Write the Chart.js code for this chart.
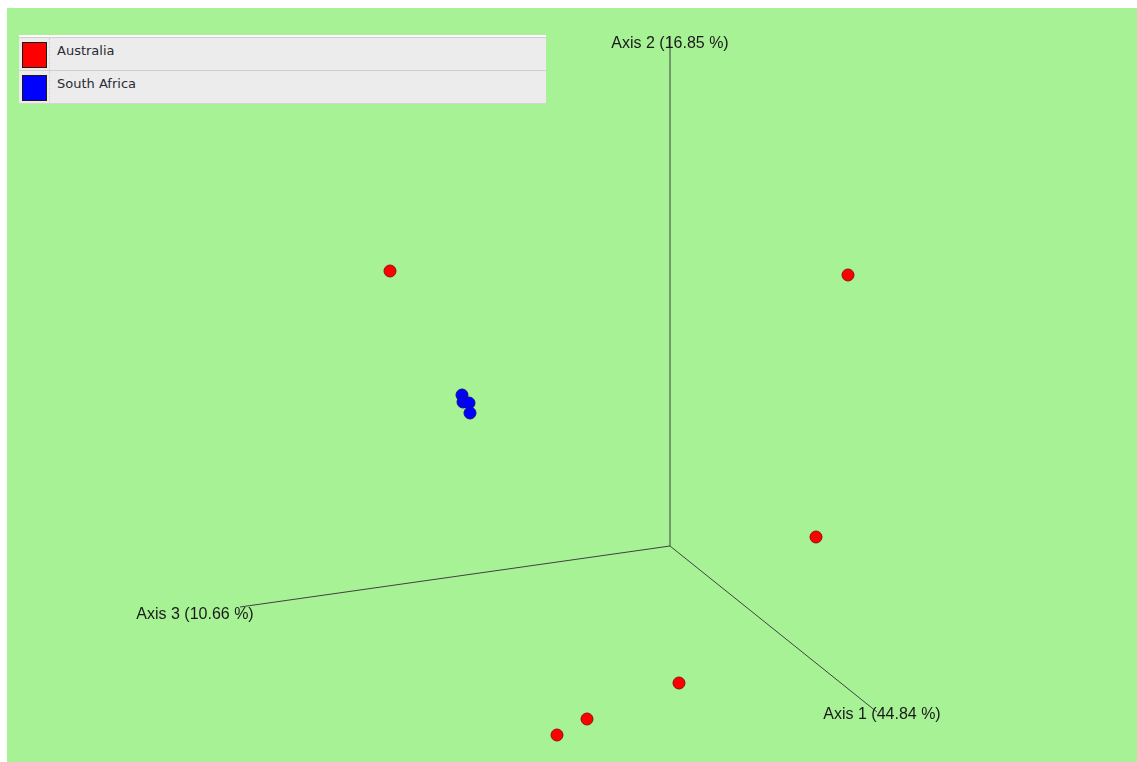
<!DOCTYPE html>
<html>
<head>
<meta charset="utf-8">
<script src="https://cdn.jsdelivr.net/npm/chart.js@4.4.1/dist/chart.umd.min.js"></script>
<style>
  html, body { margin: 0; padding: 0; background: #ffffff; }
  #plot {
    position: absolute; left: 7px; top: 8px;
    width: 1130px; height: 754px;
    background: #a7f295;
  }
  #legend {
    position: absolute; left: 12px; top: 27px;
    width: 527px;
    border-top: 2px solid #ffffff;
    border-bottom: 1px solid #d4d4d4;
    font-family: 'DejaVu Sans', Verdana, sans-serif;
    font-size: 13px; color: #2a2a33;
  }
  #legend .row {
    display: flex; height: 32px;
    background: #ececec;
    border-top: 1px solid #cfcfcf;
  }
  #legend .sw {
    width: 31px; border-right: 1px dotted #d0d0d0;
    display: flex; justify-content: center; padding-top: 4px; box-sizing: border-box;
  }
  #legend .sw span {
    display: block; width: 25px; height: 26px; box-sizing: border-box;
    border: 1px solid #1a1a1a;
  }
  #legend .lab { padding: 5px 0 0 7px; }
</style>
</head>
<body>
<div id="plot">
  <canvas id="pcoa"></canvas>
  <div id="legend"></div>
</div>
<script>
// projected PCoA coordinates (screen plane of the 3D view)
const groups = ['Australia', 'South Africa'];
const groupColors = ['#ff0000', '#0000ff'];
const groupBorders = ['#8a1010', '#10108a'];

const australiaX = [-2.80, 1.78, 1.46, 0.09, -0.83, -1.13];
const australiaY = [2.75, 2.71, 0.09, -1.37, -1.73, -1.89];
const southAfricaX = [-2.08, -2.07, -2.01, -2.00];
const southAfricaY = [1.51, 1.44, 1.43, 1.33];

// axis end points in the same projected frame, origin at (0, 0)
const axisNames = ['Axis 1 (44.84 %)', 'Axis 2 (16.85 %)', 'Axis 3 (10.66 %)'];
const axisEndX = [2.07, 0.00, -4.30];
const axisEndY = [-1.66, 5.10, -0.61];

const toPoints = (xs, ys) => xs.map((x, i) => ({ x: x, y: ys[i] }));

const sampleSets = [
    { label: groups[0], data: toPoints(australiaX, australiaY), color: groupColors[0], border: groupBorders[0], r: 6 },
    { label: groups[1], data: toPoints(southAfricaX, southAfricaY), color: groupColors[1], border: groupBorders[1], r: 6 }
];

const datasets = sampleSets.map(s => ({
    label: s.label,
    data: s.data,
    backgroundColor: s.color,
    borderColor: s.border,
    borderWidth: 1,
    pointRadius: s.r,
    pointHoverRadius: s.r,
    order: 1
}));

axisNames.forEach((name, i) => {
    datasets.push({
        label: name,
        type: 'line',
        data: [{ x: 0, y: 0 }, { x: axisEndX[i], y: axisEndY[i] }],
        borderColor: '#404040',
        borderWidth: 1,
        pointRadius: 0,
        fill: false,
        order: 2,
        isAxis: true
    });
});

// label offsets from each axis tip, in pixels
const labelOffsets = [[5, 3], [0, 8], [-45, 8]];

const axisLabels = {
    id: 'axisLabels',
    afterDatasetsDraw(chart) {
        const { ctx, scales } = chart;
        ctx.save();
        ctx.font = '16px "Liberation Sans", Arial, sans-serif';
        ctx.fillStyle = '#1a1a1a';
        ctx.textAlign = 'center';
        ctx.textBaseline = 'middle';
        axisNames.forEach((name, i) => {
            const px = scales.x.getPixelForValue(axisEndX[i]);
            const py = scales.y.getPixelForValue(axisEndY[i]);
            ctx.fillText(name, px + labelOffsets[i][0], py + labelOffsets[i][1]);
        });
        ctx.restore();
    }
};

const chart = new Chart(document.getElementById('pcoa'), {
    type: 'scatter',
    data: { datasets: datasets },
    options: {
        responsive: true,
        maintainAspectRatio: false,
        animation: false,
        layout: { padding: 0, autoPadding: false },
        plugins: {
            legend: { display: false },
            tooltip: { enabled: false }
        },
        scales: {
            x: { type: 'linear', min: -6.63, max: 4.67, display: false },
            y: { type: 'linear', min: -2.16, max: 5.38, display: false }
        }
    },
    plugins: [axisLabels]
});

// html legend for the sample groups
const legendEl = document.getElementById('legend');
chart.data.datasets.filter(d => !d.isAxis).forEach(d => {
    const row = document.createElement('div');
    row.className = 'row';
    row.innerHTML = `<div class="sw"><span style="background:${d.backgroundColor}"></span></div><div class="lab">${d.label}</div>`;
    legendEl.appendChild(row);
});
</script>
</body>
</html>
